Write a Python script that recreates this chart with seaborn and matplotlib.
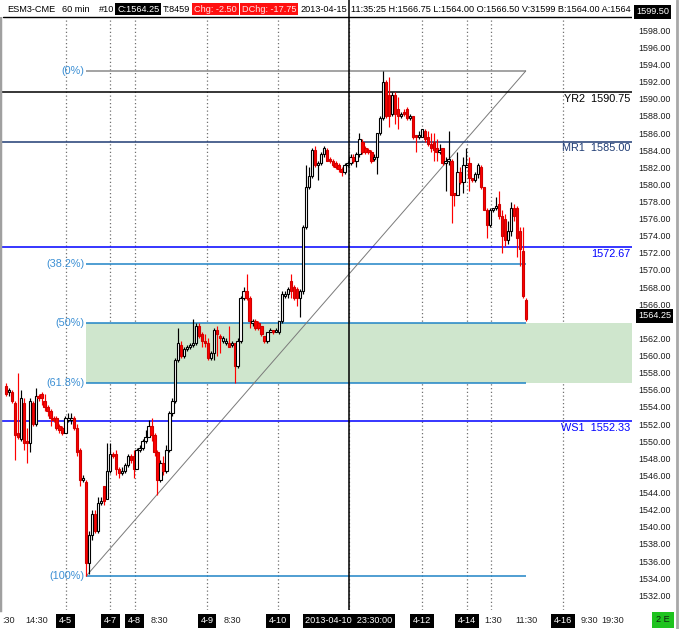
import numpy as np
import pandas as pd
import matplotlib
matplotlib.use('Agg')
import matplotlib.pyplot as plt
import matplotlib.transforms as mtransforms
from matplotlib.patches import Rectangle
from matplotlib.lines import Line2D
import seaborn as sns

# ESM3-CME 60 min bars
opens = [1556.5, 1555.75, 1555.75, 1554.5, 1551.0, 1550.25, 1554.5, 1550.0, 1549.75, 1554.5,
         1552.0, 1555.25, 1555.5, 1554.75, 1554.0, 1553.5, 1552.75, 1552.75, 1551.75, 1551.5,
         1551.0, 1552.5, 1552.5, 1552.75, 1551.5, 1549.0, 1545.5, 1545.25, 1535.75, 1539.0,
         1541.5, 1539.5, 1542.75, 1544.75, 1543.25, 1546.5, 1548.5, 1548.5, 1546.75, 1546.25,
         1546.5, 1547.25, 1548.25, 1548.25, 1546.75, 1549.0, 1549.25, 1550.0, 1550.5, 1551.75,
         1550.75, 1548.75, 1545.5, 1547.5, 1546.5, 1549.0, 1553.25, 1554.75, 1559.5, 1561.25,
         1560.0, 1560.75, 1561.0, 1561.25, 1561.5, 1563.5, 1562.5, 1561.75, 1561.5, 1559.75,
         1560.25, 1563.0, 1562.25, 1561.75, 1561.5, 1561.5, 1561.25, 1561.5, 1558.75, 1561.75,
         1566.75, 1567.5, 1566.75, 1563.75, 1564.0, 1563.75, 1563.5, 1562.25, 1561.75, 1562.75,
         1563.0, 1562.75, 1562.75, 1564.0, 1567.0, 1567.25, 1568.75, 1568.0, 1567.75, 1566.75,
         1567.5, 1575.0, 1579.75, 1581.0, 1584.0, 1582.25, 1582.5, 1583.5, 1584.0, 1583.0,
         1582.75, 1582.5, 1582.25, 1581.75, 1581.5, 1582.25, 1582.5, 1583.25, 1582.75, 1583.5,
         1585.0, 1584.25, 1584.0, 1583.75, 1583.0, 1583.25, 1586.0, 1587.75, 1592.0, 1590.5,
         1588.25, 1590.5, 1588.75, 1588.0, 1588.5, 1588.75, 1587.75, 1588.0, 1585.75, 1585.5,
         1585.5, 1586.25, 1585.5, 1584.75, 1585.0, 1584.25, 1583.75, 1584.25, 1582.5, 1582.75,
         1582.75, 1579.0, 1578.75, 1581.5, 1580.25, 1582.0, 1582.5, 1580.75, 1580.5, 1581.25,
         1582.0, 1579.75, 1577.0, 1575.25, 1577.0, 1577.25, 1577.75, 1576.25, 1576.0, 1573.5,
         1574.5, 1577.25, 1577.25, 1574.5, 1572.25, 1566.5]
highs = [1556.75, 1556.25, 1556.0, 1554.75, 1558.0, 1556.0, 1555.0, 1551.5, 1555.0, 1554.75,
         1556.25, 1555.5, 1555.75, 1555.5, 1554.25, 1553.75, 1553.0, 1553.0, 1552.0, 1551.75,
         1553.0, 1553.25, 1553.25, 1553.0, 1552.0, 1549.25, 1546.0, 1545.5, 1539.5, 1542.0,
         1542.0, 1543.5, 1543.5, 1544.75, 1549.75, 1549.75, 1548.75, 1549.0, 1547.0, 1547.0,
         1547.5, 1548.5, 1548.5, 1549.0, 1549.25, 1549.5, 1550.25, 1551.25, 1552.5, 1552.75,
         1551.0, 1549.0, 1547.75, 1548.25, 1549.5, 1553.5, 1555.0, 1559.75, 1563.25, 1561.75,
         1561.0, 1561.25, 1561.5, 1564.25, 1563.75, 1563.75, 1562.75, 1562.5, 1562.0, 1560.5,
         1563.25, 1563.5, 1562.5, 1562.25, 1562.0, 1563.5, 1561.75, 1561.5, 1562.0, 1567.0,
         1568.0, 1569.5, 1567.0, 1564.25, 1564.25, 1564.0, 1563.5, 1562.25, 1562.75, 1563.25,
         1563.0, 1563.25, 1564.0, 1567.5, 1567.5, 1568.0, 1569.5, 1568.25, 1568.0, 1567.75,
         1575.25, 1582.25, 1582.0, 1584.25, 1584.5, 1582.75, 1583.75, 1584.5, 1584.25, 1583.25,
         1583.0, 1582.75, 1582.5, 1582.0, 1582.5, 1582.75, 1583.5, 1583.5, 1583.75, 1586.0,
         1585.25, 1584.5, 1584.25, 1584.0, 1583.5, 1586.0, 1588.0, 1593.25, 1592.25, 1592.5,
         1590.75, 1590.75, 1590.25, 1588.5, 1588.75, 1589.0, 1588.25, 1588.0, 1585.75, 1586.25,
         1586.5, 1586.5, 1586.25, 1586.0, 1586.0, 1585.25, 1584.75, 1584.25, 1583.25, 1586.25,
         1583.0, 1579.0, 1583.75, 1582.0, 1583.25, 1584.25, 1583.25, 1580.75, 1581.5, 1582.5,
         1582.25, 1579.75, 1577.25, 1577.25, 1577.25, 1578.5, 1579.25, 1577.0, 1576.5, 1575.75,
         1578.0, 1577.75, 1577.5, 1575.0, 1575.0, 1566.75]
lows = [1555.25, 1555.25, 1554.5, 1547.75, 1550.25, 1550.0, 1549.0, 1547.5, 1548.75, 1551.75,
        1551.75, 1554.75, 1554.25, 1553.5, 1553.0, 1551.75, 1552.25, 1551.25, 1551.0, 1550.75,
        1551.0, 1552.25, 1552.0, 1551.25, 1548.25, 1544.75, 1545.25, 1534.25, 1534.5, 1538.5,
        1539.25, 1539.25, 1542.5, 1542.5, 1543.25, 1546.25, 1548.0, 1546.0, 1545.75, 1546.0,
        1546.25, 1547.0, 1547.5, 1545.75, 1546.75, 1548.75, 1549.0, 1549.75, 1550.5, 1550.0,
        1548.25, 1543.75, 1545.25, 1546.0, 1546.25, 1548.75, 1553.0, 1554.5, 1559.25, 1559.75,
        1559.75, 1560.5, 1560.75, 1561.0, 1561.25, 1562.0, 1561.0, 1561.0, 1559.5, 1559.5,
        1559.5, 1560.0, 1560.25, 1561.5, 1561.25, 1561.0, 1561.0, 1556.75, 1558.5, 1561.5,
        1566.5, 1566.5, 1563.25, 1563.5, 1563.0, 1563.0, 1562.25, 1561.5, 1561.5, 1562.75,
        1562.5, 1562.75, 1562.5, 1563.75, 1566.75, 1566.75, 1566.75, 1566.5, 1565.75, 1564.5,
        1567.25, 1574.75, 1579.5, 1580.75, 1582.0, 1580.5, 1582.25, 1583.25, 1582.75, 1582.5,
        1582.0, 1581.75, 1581.5, 1581.0, 1581.25, 1582.0, 1582.25, 1582.5, 1582.0, 1583.25,
        1583.5, 1583.5, 1583.5, 1582.5, 1582.75, 1581.25, 1585.75, 1587.5, 1587.75, 1586.75,
        1588.0, 1587.0, 1586.5, 1587.75, 1588.0, 1587.5, 1587.5, 1585.25, 1583.75, 1585.25,
        1585.5, 1585.0, 1584.5, 1583.75, 1582.75, 1582.75, 1583.5, 1582.25, 1579.25, 1582.25,
        1575.5, 1577.5, 1578.75, 1580.0, 1579.0, 1582.0, 1579.25, 1580.25, 1580.25, 1580.75,
        1579.5, 1577.0, 1573.75, 1575.0, 1576.75, 1577.0, 1576.0, 1572.0, 1572.75, 1573.0,
        1574.0, 1575.75, 1571.5, 1570.5, 1566.75, 1564.0]
closes = [1555.5, 1556.0, 1554.75, 1550.75, 1550.5, 1555.0, 1549.75, 1549.75, 1554.75, 1552.0,
          1555.25, 1555.0, 1555.0, 1554.0, 1553.5, 1552.75, 1552.5, 1551.5, 1551.25, 1551.0,
          1552.75, 1552.75, 1552.75, 1551.5, 1548.75, 1545.5, 1545.75, 1535.75, 1539.0, 1541.5,
          1539.5, 1542.75, 1543.0, 1543.0, 1546.5, 1548.5, 1548.25, 1546.75, 1546.25, 1546.5,
          1547.25, 1548.25, 1547.75, 1546.75, 1549.0, 1549.25, 1550.0, 1550.5, 1551.75, 1550.75,
          1548.75, 1545.5, 1547.5, 1546.5, 1549.0, 1553.25, 1554.75, 1559.5, 1561.5, 1560.0,
          1560.75, 1561.0, 1561.25, 1561.5, 1563.5, 1562.25, 1561.75, 1561.5, 1559.75, 1560.25,
          1563.0, 1562.5, 1562.0, 1562.0, 1561.75, 1561.0, 1561.5, 1558.75, 1561.75, 1566.75,
          1567.5, 1566.75, 1564.0, 1564.0, 1563.25, 1563.25, 1562.5, 1561.75, 1562.75, 1563.0,
          1562.75, 1563.0, 1564.0, 1567.25, 1567.25, 1567.75, 1567.5, 1566.75, 1566.75, 1567.5,
          1575.0, 1579.75, 1581.0, 1584.0, 1582.25, 1582.5, 1583.5, 1584.25, 1582.75, 1582.75,
          1582.25, 1582.0, 1581.75, 1581.5, 1582.25, 1582.5, 1583.25, 1582.75, 1583.5, 1585.25,
          1583.75, 1583.75, 1583.75, 1582.75, 1583.25, 1586.0, 1587.75, 1592.0, 1588.0, 1588.0,
          1590.5, 1588.25, 1588.0, 1588.25, 1588.25, 1587.75, 1588.0, 1585.5, 1585.5, 1585.75,
          1586.5, 1585.25, 1584.75, 1584.25, 1584.0, 1583.75, 1584.0, 1582.5, 1582.75, 1583.0,
          1578.75, 1578.75, 1581.5, 1580.25, 1582.25, 1582.25, 1580.75, 1580.5, 1581.25, 1582.25,
          1579.75, 1577.0, 1575.25, 1577.0, 1577.25, 1577.5, 1576.25, 1574.0, 1573.5, 1574.5,
          1577.25, 1576.25, 1573.75, 1572.5, 1567.0, 1564.25]

# pivot levels
pivot_names = ['YR2', 'MR1', '', 'WS1']
pivot_levels = [1590.75, 1585.00, 1572.67, 1552.33]
pivot_colors = ['#000000', '#1f3c74', '#0000ff', '#0000ff']

# fibonacci retracement
fib_ratios = [0.0, 0.382, 0.5, 0.618, 1.0]
fib_texts = ['(0%)', '(38.2%)', '(50%)', '(61.8%)', '(100%)']

# x axis labels
bottom_labels = [':30', '14:30', '4-5', '4-7', '4-8', '8:30', '4-9', '8:30', '4-10',
                 '2013-04-10  23:30:00', '4-12', '4-14', '1:30', '11:30', '4-16', '9:30', '19:30']
label_pos = [0.67, 10.4, 20.1, 35.1, 43.3, 51.5, 67.7, 76.1, 91.6,
             115.5, 140.1, 155.2, 164.0, 175.1, 187.5, 196.3, 204.4]
grid_pos = [20.1, 35.1, 43.3, 67.7, 91.6, 115.5, 140.1, 155.2, 163.3, 187.5]
crosshair_pos = 115.5

header = [(7, 'ESM3-CME', None), (62, '60 min', None), (99, '#10', None),
          (117, 'C:1564.25', 'black'), (163, 'T:8459', None),
          (194, 'Chg: -2.50', 'red'), (242, 'DChg: -17.75', 'red'),
          (300, '2013-04-15', None),
          (351, '11:35:25 H:1566.75 L:1564.00 O:1566.50 V:31599 B:1564.00 A:1564', None)]

sns.set_theme(style='white')
plt.rcParams['font.family'] = ['Liberation Sans', 'DejaVu Sans']

df = pd.DataFrame({'open': opens, 'high': highs, 'low': lows, 'close': closes})
df['bar'] = np.arange(len(df))
df['up'] = df['close'] >= df['open']

fig = plt.figure(figsize=(6.79, 6.29), dpi=100)
ax = fig.add_axes([0, 19 / 629, 632 / 679, 610 / 629])
ax.set_facecolor('white')

xmin, xmax = -2.02, 210.77
ax.set_xlim(xmin, xmax)
ax.set_ylim(1530.28, 1601.54)

# vertical dotted grid
for gx in grid_pos:
    ax.axvline(gx, color='#707070', lw=0.9, ls=(0, (1, 2)), zorder=0.5)

# fib levels
hi = df['high'].max()
lo = df['low'].min()
lo_bar = int(df['low'].idxmin())
end_bar = len(df) - 1
fib_levels = [hi - r * (hi - lo) for r in fib_ratios]

ax.fill_between([lo_bar, xmax], fib_levels[3], fib_levels[2], color='#cfe6cd', lw=0, zorder=1)
for r, lvl, txt in zip(fib_ratios, fib_levels, fib_texts):
    col = '#8a8a8a' if r == 0 else '#1f84c6'
    ax.hlines(lvl, lo_bar, end_bar, colors=col, lw=1.1, zorder=2)
    ax.text(lo_bar - 0.5, lvl, txt, ha='right', va='center', fontsize=7.8, color='#3b8fd4', zorder=6)

diag = pd.DataFrame({'bar': [lo_bar, end_bar], 'price': [lo, hi]})
sns.lineplot(data=diag, x='bar', y='price', ax=ax, color='#7a7a7a', lw=0.7, zorder=2)

# pivot lines
ytrans = mtransforms.blended_transform_factory(ax.transAxes, ax.transData)
for name, lvl, col in zip(pivot_names, pivot_levels, pivot_colors):
    ax.axhline(lvl, color=col, lw=1.1, zorder=2)
    lab = f'{name}  {lvl:.2f}' if name else f'{lvl:.2f}'
    ax.annotate(lab, xy=(0.997, lvl), xycoords=ytrans, xytext=(0, -4.8), textcoords='offset points',
                ha='right', va='center', fontsize=7.8, color=col, zorder=6)

# candles
wick_cols = np.where(df['up'], 'black', '#ff0000')
ax.vlines(df['bar'], df['low'], df['high'], colors=wick_cols, lw=0.85, zorder=3)
body_bottom = np.minimum(df['open'], df['close'])
body_h = np.maximum((df['close'] - df['open']).abs(), 0.12)
ax.bar(df['bar'], body_h, bottom=body_bottom, width=0.8,
       color=np.where(df['up'], 'white', '#ff0000'),
       edgecolor=np.where(df['up'], 'black', '#d00000'), linewidth=0.8, zorder=4)

# crosshair
ax.axvline(crosshair_pos, color='black', lw=1.1, zorder=7)

# header strip
ax.add_patch(Rectangle((0, 1 - 17 / 610), 1, 17 / 610, transform=ax.transAxes,
                       fc='white', ec='none', zorder=5))
ax.plot([3 / 632, 1], [1 - 17 / 610] * 2, transform=ax.transAxes, color='black', lw=1, zorder=6)
for xp, txt, box in header:
    if box == 'black':
        fig.text(xp / 679, 1 - 9 / 629, txt, fontsize=6.6, color='white', va='center',
                 bbox=dict(boxstyle='square,pad=0.2', fc='black', ec='none'))
    elif box == 'red':
        fig.text(xp / 679, 1 - 9 / 629, txt, fontsize=6.6, color='#ffe4e4', va='center',
                 bbox=dict(boxstyle='square,pad=0.2', fc='#ff1010', ec='none'))
    else:
        fig.text(xp / 679, 1 - 9 / 629, txt, fontsize=6.6, color='black', va='center')

# right price axis
ticks = [t for t in np.arange(1532, 1600, 2) if t != 1564]
ax.yaxis.tick_right()
ax.set_yticks(ticks)
ax.set_yticklabels([f'{t:.2f}' for t in ticks])
ax.tick_params(axis='y', length=0, pad=4.3, labelsize=6.4, labelcolor='#1a1a1a')
ax.set_xticks([])
ax.set_xlabel('')
ax.set_ylabel('')
for s in ['top', 'right', 'bottom']:
    ax.spines[s].set_visible(False)
ax.spines['left'].set_color('#a0a0a0')
ax.spines['left'].set_linewidth(2.5)

fig.text(636 / 679, 1 - 12 / 629, '1599.50', fontsize=6.6, color='white', va='center',
         bbox=dict(boxstyle='square,pad=0.25', fc='black', ec='none'))
ax.annotate(f'{closes[-1]:.2f}', xy=(1.0, closes[-1]), xycoords=ytrans, xytext=(4.3, 2.5),
            textcoords='offset points', ha='left', va='center', fontsize=6.6, color='white',
            bbox=dict(boxstyle='square,pad=0.25', fc='black', ec='none'), annotation_clip=False)

# bottom time axis
xt = ax.get_xaxis_transform()
for pos, lab in zip(label_pos, bottom_labels):
    if lab.startswith('4-') or lab.startswith('2013'):
        ax.text(pos, -0.018, lab, transform=xt, ha='center', va='center', fontsize=6.6, color='white',
                bbox=dict(boxstyle='square,pad=0.3', fc='black', ec='none'), clip_on=False, zorder=8)
    else:
        ax.text(pos, -0.018, lab, transform=xt, ha='center', va='center', fontsize=6.6,
                color='#222222', clip_on=False)

fig.text(663 / 679, 1 - 620 / 629, '2 E', fontsize=6.6, color='#102010', ha='center', va='center',
         bbox=dict(boxstyle='square,pad=0.4', fc='#1fc31f', ec='none'))
fig.add_artist(Line2D([677 / 679, 677 / 679], [0, 1], transform=fig.transFigure, color='#a8a8a8', lw=2))

fig.savefig('out.png', dpi=100)
